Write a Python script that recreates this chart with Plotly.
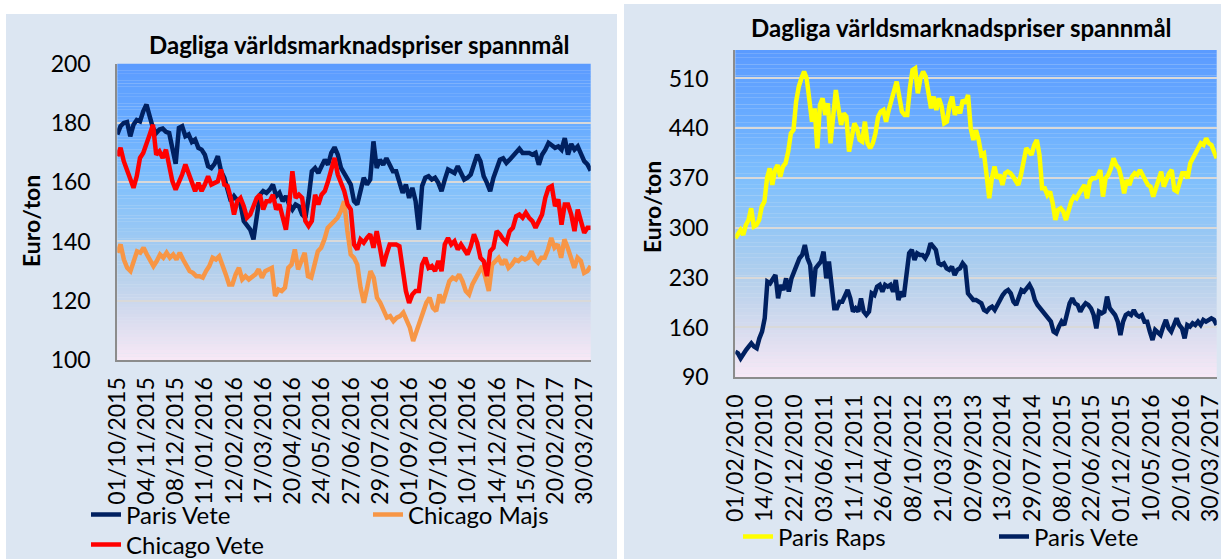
import numpy as np
import plotly.graph_objects as go

W, H = 1221, 559

# ---------------- data: left chart (Euro/ton) ----------------
left_labels = ["01/10/2015", "04/11/2015", "08/12/2015", "11/01/2016", "12/02/2016",
               "17/03/2016", "20/04/2016", "24/05/2016", "27/06/2016", "29/07/2016",
               "01/09/2016", "07/10/2016", "10/11/2016", "14/12/2016", "15/01/2017",
               "20/02/2017", "30/03/2017"]

paris_vete_L = [176.1, 178.9, 180, 180.3, 175.5, 179.4, 181, 180.5, 183.9, 186.2, 182.2, 178.3,
                176.6, 177.8, 178.1, 177, 176.6, 171.6, 166.2, 178.3, 178.9, 175.5, 176.1, 173.6,
                174.4, 171.6, 171, 169.3, 165.4, 164.8, 166.2, 168.8, 163.7, 161.5, 157.5, 153.6,
                155.3, 153.6, 152.5, 146.9, 145.7, 144, 140.7, 149.1, 155.8, 157, 156.4, 157.5,
                159.2, 155.3, 156.4, 153.6, 155.3, 152.5, 150.8, 152.5, 151.9, 149.1, 148, 154.7,
                163.7, 164.8, 163.1, 165.4, 167.6, 165.9, 169.9, 171.8, 169.3, 164.8, 163.1, 160.9,
                159.2, 153.6, 152.5, 157, 161.5, 159.2, 160.9, 173.8, 164.8, 167.6, 165.9, 168.1,
                165.4, 163.7, 163.7, 160.3, 156.4, 159.2, 154.7, 158.1, 153.6, 144, 158.7, 161.5,
                162, 160.9, 161.5, 159.8, 157, 160.9, 164.3, 163.7, 163.1, 165.4, 163.1, 160.9,
                161.5, 162.6, 166, 169.3, 167.1, 162, 159.8, 157, 161.5, 164.3, 167.6, 168.1,
                166.5, 167.6, 168.8, 169.9, 171.3, 169.9, 169.9, 169.9, 169.3, 169.9, 165.9, 169.3,
                171, 173.3, 172.5, 171.6, 172.1, 171, 174.9, 169.3, 172.9, 171, 172.1, 169.3,
                167.1, 166, 163.9]

chicago_majs_L = [136.2, 139, 133.9, 131.1, 130, 133.4, 136.7, 136.2, 137.9, 135.6, 133.4, 131.7,
                  133.4, 135.6, 134.5, 136.2, 134.5, 135.6, 133.9, 136.2, 133.9, 131.7, 130, 129.4,
                  128.3, 128.3, 127.8, 130, 131.7, 134.5, 133.9, 135, 132.2, 128.9, 125.5, 125.5,
                  128.9, 131.1, 127.2, 128.3, 127.2, 128.3, 128.9, 130.6, 127.8, 130, 130.6, 131.1,
                  121.6, 123.8, 123.3, 124.4, 131.1, 132.2, 137.3, 130.6, 133.4, 136.2, 128.3, 127.8,
                  132.2, 136.7, 137.9, 140.7, 144.6, 145.7, 146.9, 148, 150.2, 153.6, 143.5, 135.6,
                  134.5, 132.2, 124.4, 119.3, 124.4, 130, 127.8, 121, 119.3, 117.1, 114.3, 114.8,
                  113.1, 114.3, 114.8, 116, 113.7, 110.9, 106.4, 109.8, 112, 115.4, 119.3, 121,
                  117.6, 116.5, 122.1, 119.3, 123.3, 126.6, 127.8, 127.2, 128.9, 126.6, 123.3, 122.1,
                  125.5, 127.8, 130, 131.7, 127.8, 123.3, 132.2, 133.4, 134.5, 132.2, 133.9, 131.1,
                  132.2, 133.9, 133.4, 134.5, 133.9, 134.5, 136.7, 133.9, 132.8, 134.5, 134.5, 137.3,
                  141.2, 137.9, 139, 134.5, 140.7, 137.9, 134.5, 131.1, 134.5, 133.4, 129.4, 130,
                  131.7]

chicago_vete_L = [168.8, 171.6, 167.1, 163.7, 160.3, 158.1, 162, 168.2, 169.9, 172.7, 176.1, 179.4,
                  169.3, 170.4, 168.2, 171, 166, 160.3, 157.5, 159.8, 162.6, 166, 162.6, 159.2,
                  157, 159.8, 157, 159.2, 162, 159.2, 159.8, 160.3, 164.3, 159.2, 158.7, 154.7,
                  149.1, 153.6, 154.7, 151.9, 148, 149.1, 151.9, 154.7, 155.8, 150.8, 153.6, 153.6,
                  155.8, 150.8, 152.5, 148, 144, 152.5, 163.7, 154.7, 155.8, 154.7, 146.9, 145.2,
                  146.9, 155.8, 152.5, 155.8, 157, 160.3, 163.7, 168.2, 162.6, 159.8, 157, 152.5,
                  150.8, 139, 137.3, 140.7, 139.6, 141.2, 142.4, 137.9, 143.5, 137.9, 131.7, 135.6,
                  139, 139, 139, 138.4, 130, 123.3, 119.3, 122.1, 123.3, 123.3, 132.2, 134.5,
                  131.1, 131.7, 130, 133.4, 130, 139, 141.2, 139, 140.1, 137.3, 139, 137.3,
                  135.6, 138.4, 142.4, 139.6, 134.5, 133.4, 128.3, 136.7, 137.9, 143.5, 142.4, 140.7,
                  139.6, 143.5, 144.6, 148.5, 149.1, 148, 149.7, 148, 146.9, 144.6, 146.9, 149.1,
                  154.7, 158.1, 158.7, 151.9, 154.2, 145.7, 152.5, 152.5, 149.1, 143.5, 150.8, 146.9,
                  142.9, 144.6, 144.6]

# ---------------- data: right chart (Euro/ton) ----------------
right_labels = ["01/02/2010", "14/07/2010", "22/12/2010", "03/06/2011", "11/11/2011",
                "26/04/2012", "08/10/2012", "21/03/2013", "02/09/2013", "13/02/2014",
                "29/07/2014", "08/01/2015", "22/06/2015", "01/12/2015", "10/05/2016",
                "20/10/2016", "30/03/2017"]

paris_raps_R = [285.4, 292.4, 297.1, 290, 304.1, 311.1, 327.5, 301.8, 304.1, 311.1, 329.9, 336.9,
                369.7, 383.8, 360.3, 381.4, 388.4, 372, 386.1, 390.8, 407.2, 432.9, 437.6, 477.4,
                498.5, 510.2, 519.6, 510.2, 477.4, 449.3, 468, 411.9, 472.7, 482.1, 458.7, 475.1,
                418.9, 463.4, 493.8, 468, 444.7, 461, 456.4, 407.2, 426, 447, 440, 423.6,
                421.2, 449.3, 418.9, 411.9, 418.9, 432.9, 456.4, 463.4, 465.7, 449.3, 465.7, 477.4,
                491.5, 505.5, 484.5, 463.4, 458.7, 458.7, 496.2, 521.9, 524.3, 489.2, 510.2, 519.6,
                512.6, 486.8, 468, 484.5, 465.7, 482.1, 470.4, 447, 449.3, 472.7, 484.5, 458.7,
                470.4, 461, 479.8, 475.1, 486.8, 440, 423.6, 437.6, 423.6, 402.5, 404.8, 374.4,
                341.6, 369.7, 386.1, 369.7, 374.4, 360.3, 376.7, 379.1, 376.7, 372, 365, 360.3,
                374.4, 395.5, 411.9, 407.2, 402.5, 416.5, 423.6, 402.5, 355.6, 355.6, 346.3, 351,
                334.6, 311.1, 325.2, 327.5, 322.8, 311.1, 325.2, 336.9, 343.9, 341.6, 348.6, 355.6,
                360.3, 341.6, 365, 369.7, 369.7, 372, 381.4, 343.9, 369.7, 374.4, 383.8, 397.8,
                388.4, 383.8, 369.7, 348.6, 367.4, 360.3, 372, 376.7, 374.4, 381.4, 374.4, 367.4,
                360.3, 358, 343.9, 355.6, 369.7, 379.1, 358, 369.7, 376.7, 381.4, 353.3, 351,
                362.7, 376.7, 376.7, 369.7, 390.8, 397.8, 407.2, 411.9, 418.9, 416.5, 425.9, 418.9,
                416.5, 407.2, 397.8]

paris_vete_R = [126.1, 123.7, 116.7, 123.7, 128.4, 133.1, 137.8, 133.1, 130.8, 144.8, 154.2, 172.9,
                224.5, 222.1, 229.1, 233.8, 201, 219.8, 212.7, 229.1, 210.4, 229.1, 238.5, 247.9,
                257.3, 261.9, 276, 257.3, 247.9, 203.4, 243.2, 247.9, 252.6, 266.6, 229.1, 252.6,
                224.5, 187, 187, 196.3, 196.3, 203.4, 212.7, 201, 182.3, 187, 182.3, 201,
                182.3, 177.6, 182.3, 208.1, 205.7, 217.4, 219.8, 210.4, 219.8, 217.4, 219.8, 210.4,
                226.8, 198.7, 210.4, 203.4, 238.5, 264.3, 269, 254.9, 264.3, 262, 262, 257.3,
                264.3, 278.3, 273.6, 269, 250.2, 247.9, 250.2, 243.2, 240.9, 245.5, 233.8, 240.9,
                243.2, 250.2, 245.5, 208, 203.4, 198.7, 198.7, 196.3, 194, 184.6, 182.3, 187,
                189.3, 184.6, 191.7, 201, 205.7, 210.4, 212.7, 208, 196.3, 191.7, 201, 212.7,
                210.4, 215.1, 219.8, 212.7, 198.7, 191.7, 187, 182.3, 177.6, 175.3, 168.2, 154.2,
                151.8, 161.2, 168.2, 163.5, 182.3, 194, 201, 194, 191.7, 182.3, 189.3, 194,
                191.7, 187, 177.6, 158.9, 182.3, 180, 182.3, 203.4, 187, 182.3, 177.6, 168.2,
                149.5, 168.2, 177.6, 180, 177.6, 184.6, 177.6, 175.3, 177.6, 168.2, 168.2, 154.2,
                142.5, 156.5, 151.8, 149.5, 161.2, 170.6, 158.9, 154.2, 163.5, 172.9, 163.5, 158.9,
                144.8, 163.5, 161.2, 165.9, 163.5, 168.2, 163.5, 170.6, 168.2, 170.6, 172.9, 170.6,
                163.5]

# position (in label steps) of the last daily observation, a bit past the last label
LAST_POS = 16.2

# ---------------- style ----------------
NAVY, RED, ORANGE, YELLOW = "#002060", "#FF0000", "#F79646", "#FFFF00"
PANEL = "#DCE6F2"
FONT = "Lato"
GRAD = [(0.0, (91, 155, 255)), (0.2, (104, 171, 255)), (0.4, (128, 192, 252)),
        (0.55, (150, 199, 245)), (0.7, (180, 208, 236)), (0.85, (214, 219, 238)),
        (1.0, (248, 233, 246))]


def xs(vals):
    return np.linspace(0, LAST_POS, len(vals))


def grad_color(t):
    for (t0, c0), (t1, c1) in zip(GRAD[:-1], GRAD[1:]):
        if t <= t1:
            f = (t - t0) / (t1 - t0)
            c = [round(a + (b - a) * f) for a, b in zip(c0, c1)]
            return "rgb(%d,%d,%d)" % tuple(c)
    return "rgb(%d,%d,%d)" % GRAD[-1][1]


fig = go.Figure()
LW = 4.5
fig.add_trace(go.Scatter(x=xs(paris_vete_L), y=paris_vete_L, mode="lines", name="Paris Vete",
                         line=dict(color=NAVY, width=LW), xaxis="x", yaxis="y", legend="legend"))
fig.add_trace(go.Scatter(x=xs(chicago_majs_L), y=chicago_majs_L, mode="lines", name="Chicago Majs",
                         line=dict(color=ORANGE, width=LW), xaxis="x", yaxis="y", legend="legend"))
fig.add_trace(go.Scatter(x=xs(chicago_vete_L), y=chicago_vete_L, mode="lines", name="Chicago Vete",
                         line=dict(color=RED, width=LW), xaxis="x", yaxis="y", legend="legend2"))
fig.add_trace(go.Scatter(x=xs(paris_raps_R), y=paris_raps_R, mode="lines", name="Paris Raps",
                         line=dict(color=YELLOW, width=LW), xaxis="x2", yaxis="y2", legend="legend3"))
fig.add_trace(go.Scatter(x=xs(paris_vete_R), y=paris_vete_R, mode="lines", name="Paris Vete",
                         line=dict(color=NAVY, width=LW), xaxis="x2", yaxis="y2", legend="legend3"))

shapes = [
    dict(type="rect", xref="paper", yref="paper", x0=6 / W, x1=617 / W, y0=0, y1=1 - 14 / H,
         fillcolor=PANEL, line=dict(width=0), layer="below"),
    dict(type="rect", xref="paper", yref="paper", x0=624 / W, x1=1, y0=0, y1=1 - 4 / H,
         fillcolor=PANEL, line=dict(width=0), layer="below"),
]
NB = 90
for ax in ("", "2"):
    for i in range(NB):
        t = (i + 0.5) / NB
        shapes.append(dict(type="rect", xref="x%s domain" % ax, yref="y%s domain" % ax,
                           x0=0, x1=1, y0=1 - (i + 1.02) / NB, y1=1 - i / NB,
                           fillcolor=grad_color(t), line=dict(width=0), layer="below"))

tickfont = dict(family=FONT, size=23, color="black")
xcommon = dict(range=[0, LAST_POS], tickmode="array", tickvals=list(range(17)), tickangle=-90,
               showgrid=False, zeroline=False, showline=True, linecolor="#8C8C8C", linewidth=2,
               ticks="", tickfont=tickfont, ticklabelstandoff=6, fixedrange=True,
               automargin=False, ticklabeloverflow="allow")
ycommon = dict(showgrid=True, gridcolor="#D9D9D9", gridwidth=2, zeroline=False, showline=True,
               linecolor="#8C8C8C", linewidth=2, ticks="", tickfont=tickfont,
               ticklabelstandoff=20, fixedrange=True, automargin=False)

legfont = dict(family=FONT, size=24, color="black")
legcommon = dict(orientation="h", xanchor="left", yanchor="middle", bgcolor="rgba(0,0,0,0)",
                 borderwidth=0, font=legfont, entrywidthmode="pixels", itemclick=False,
                 itemdoubleclick=False)

title_font = dict(family=FONT, size=24, color="black")
ytitle_font = dict(family=FONT, size=23, color="black")

fig.update_layout(
    width=W, height=H, autosize=False,
    margin=dict(l=0, r=0, t=0, b=0, autoexpand=False),
    paper_bgcolor="white", plot_bgcolor="rgba(0,0,0,0)",
    font=dict(family=FONT, color="black"),
    xaxis=dict(domain=[117.3 / W, 590.7 / W], anchor="y", ticktext=left_labels, **xcommon),
    yaxis=dict(domain=[1 - 360 / H, 1 - 63.7 / H], anchor="x", range=[100, 200], dtick=20,
               tick0=100, **ycommon),
    xaxis2=dict(domain=[735.3 / W, 1216.7 / W], anchor="y2", ticktext=right_labels, **xcommon),
    yaxis2=dict(domain=[1 - 377.3 / H, 1 - 50 / H], anchor="x2", range=[90, 550], dtick=70,
                tick0=90, **ycommon),
    shapes=shapes,
    legend=dict(x=86 / W, y=1 - 515 / H, entrywidth=237, **legcommon),
    legend2=dict(x=86 / W, y=1 - 545 / H, entrywidth=237, **legcommon),
    legend3=dict(x=738 / W, y=1 - 537 / H, entrywidth=211, **legcommon),
    annotations=[
        dict(text="<b>Dagliga världsmarknadspriser spannmål</b>", xref="paper", yref="paper",
             x=359 / W, y=1 - 45 / H, xanchor="center", yanchor="middle", showarrow=False,
             font=title_font),
        dict(text="<b>Dagliga världsmarknadspriser spannmål</b>", xref="paper", yref="paper",
             x=961 / W, y=1 - 28 / H, xanchor="center", yanchor="middle", showarrow=False,
             font=title_font),
        dict(text="<b>Euro/ton</b>", xref="paper", yref="paper", x=31 / W, y=1 - 221 / H,
             xanchor="center", yanchor="middle", textangle=-90, showarrow=False, font=ytitle_font),
        dict(text="<b>Euro/ton</b>", xref="paper", yref="paper", x=652 / W, y=1 - 207 / H,
             xanchor="center", yanchor="middle", textangle=-90, showarrow=False, font=ytitle_font),
    ],
)

fig.write_html(
    "out.html",
    config={"displayModeBar": False},
    post_script=("document.documentElement.style.margin='0';document.body.style.margin='0';"
                 "document.body.style.padding='0';document.documentElement.style.overflow='hidden';"
                 "document.body.style.overflow='hidden';"),
)
